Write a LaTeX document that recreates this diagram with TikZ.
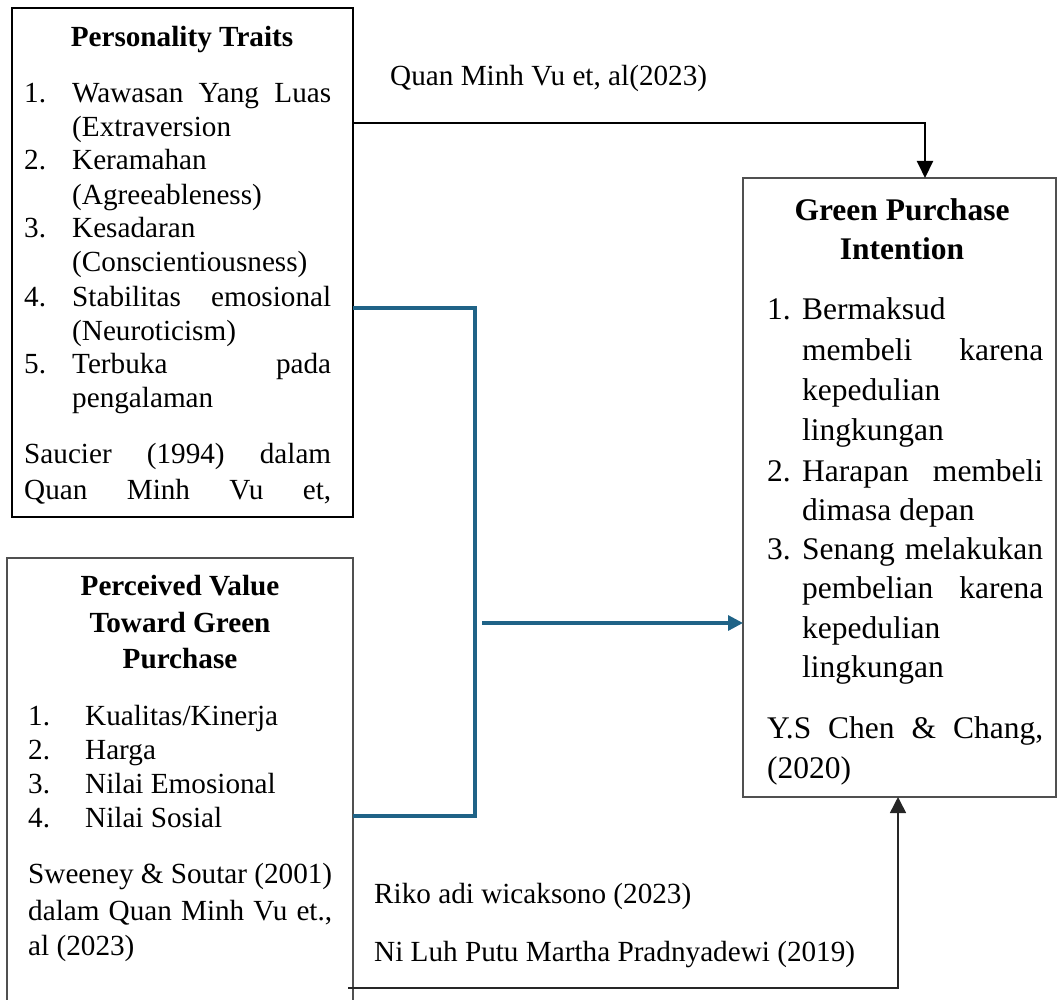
\documentclass[tikz,border=0pt]{standalone}
\usepackage{fontspec}
\setmainfont{Liberation Serif}
\usetikzlibrary{arrows.meta}
\definecolor{linkblue}{RGB}{31,99,135}
\definecolor{boxgray}{RGB}{80,80,80}
\begin{document}
\begin{tikzpicture}[x=1pt,y=-1pt,
  txt/.style={anchor=base west, inner sep=0pt, font=\fontsize{29.2}{34}\selectfont},
  gtxt/.style={anchor=base west, inner sep=0pt, font=\fontsize{31.5}{40}\selectfont},
  head/.style={anchor=base, inner sep=0pt, font=\fontsize{29.2}{34}\selectfont\bfseries},
  ghead/.style={anchor=base, inner sep=0pt, font=\fontsize{31.5}{40}\selectfont\bfseries},
  frame/.style={draw, anchor=north west, inner sep=0pt, outer sep=0pt},
  blk/.style={draw=black, line width=2pt, -{Triangle[length=17pt,width=16pt]}},
  blkthin/.style={draw=black!85, line width=1.5pt, -{Triangle[length=16pt,width=16pt]}},
  blu/.style={draw=linkblue, line width=3.2pt, line join=miter},
  bluarrow/.style={draw=linkblue, line width=3.2pt, -{Triangle[length=15pt,width=15pt]}}
]
\useasboundingbox (0,0) rectangle (1057,1000);

% ---------- Box 1: Personality Traits ----------
\node[frame, line width=2.8pt, minimum width=341pt, minimum height=509pt] (pt) at (12,8) {};
\node[head] (pth) at (182,47) {Personality Traits};
\node[txt] (ptn1) at (24,103) {1.};
\node[txt] (pt1a) at (72,103) {\makebox[259pt][s]{Wawasan Yang Luas}};
\node[txt] (pt1b) at (72,137) {(Extraversion};
\node[txt] (ptn2) at (24,170) {2.};
\node[txt] (pt2a) at (72,170) {Keramahan};
\node[txt] (pt2b) at (72,205) {(Agreeableness)};
\node[txt] (ptn3) at (24,238) {3.};
\node[txt] (pt3a) at (72,238) {Kesadaran};
\node[txt] (pt3b) at (72,272) {(Conscientiousness)};
\node[txt] (ptn4) at (24,306) {4.};
\node[txt] (pt4a) at (72,306) {\makebox[259pt][s]{Stabilitas emosional}};
\node[txt] (pt4b) at (72,340) {(Neuroticism)};
\node[txt] (ptn5) at (24,373) {5.};
\node[txt] (pt5a) at (72,373) {\makebox[259pt][s]{Terbuka pada}};
\node[txt] (pt5b) at (72,407) {pengalaman};
\node[txt] (ptc1) at (24,463) {\makebox[307pt][s]{Saucier (1994) dalam}};
\node[txt] (ptc2) at (24,499) {\makebox[307pt][s]{Quan Minh Vu et,}};

% ---------- Box 2: Perceived Value ----------
\begin{scope}
\clip (0,0) rectangle (1057,1000);
\node[frame, draw=boxgray, line width=1.4pt, minimum width=346pt, minimum height=460pt] (pv) at (7,558) {};
\end{scope}
\node[head] (pvh1) at (180,595) {Perceived Value};
\node[head] (pvh2) at (180,632) {Toward Green};
\node[head] (pvh3) at (180,668) {Purchase};
\node[txt] (pvn1) at (28,725) {1.};
\node[txt] (pv1) at (85,725) {Kualitas/Kinerja};
\node[txt] (pvn2) at (28,759) {2.};
\node[txt] (pv2) at (85,759) {Harga};
\node[txt] (pvn3) at (28,793) {3.};
\node[txt] (pv3) at (85,793) {Nilai Emosional};
\node[txt] (pvn4) at (28,827) {4.};
\node[txt] (pv4) at (85,827) {Nilai Sosial};
\node[txt] (pvc1) at (28,883) {\makebox[304pt][s]{Sweeney \& Soutar (2001)}};
\node[txt] (pvc2) at (28,920) {\makebox[304pt][s]{dalam Quan Minh Vu et.,}};
\node[txt] (pvc3) at (28,955) {al (2023)};

% ---------- Box 3: Green Purchase Intention ----------
\node[frame, draw=boxgray, line width=1.8pt, minimum width=313pt, minimum height=619pt] (gpi) at (743,178) {};
\node[ghead] (gh1) at (902,221) {Green Purchase};
\node[ghead] (gh2) at (902,260) {Intention};
\node[gtxt] (gn1) at (767,319) {1.};
\node[gtxt] (g1a) at (802,319) {Bermaksud};
\node[gtxt] (g1b) at (802,360) {\makebox[241pt][s]{membeli karena}};
\node[gtxt] (g1c) at (802,400) {kepedulian};
\node[gtxt] (g1d) at (802,440) {lingkungan};
\node[gtxt] (gn2) at (767,481) {2.};
\node[gtxt] (g2a) at (802,481) {\makebox[241pt][s]{Harapan membeli}};
\node[gtxt] (g2b) at (802,520) {dimasa depan};
\node[gtxt] (gn3) at (767,559) {3.};
\node[gtxt] (g3a) at (802,559) {\makebox[241pt][s]{Senang melakukan}};
\node[gtxt] (g3b) at (802,598) {\makebox[241pt][s]{pembelian karena}};
\node[gtxt] (g3c) at (802,638) {kepedulian};
\node[gtxt] (g3d) at (802,677) {lingkungan};
\node[gtxt] (gc1) at (767,738) {\makebox[276pt][s]{Y.S Chen \& Chang,}};
\node[gtxt] (gc2) at (767,778) {(2020)};

% ---------- free labels ----------
\node[txt] (lab1) at (390,86) {Quan Minh Vu et, al(2023)};
\node[txt] (lab2) at (374,903) {Riko adi wicaksono (2023)};
\node[txt] (lab3) at (374,961) {Ni Luh Putu Martha Pradnyadewi (2019)};

% ---------- connectors ----------
\coordinate (j1) at (475,308);
\coordinate (j2) at (475,816);
\coordinate (j3) at (482,623);
\coordinate (b1) at (348,988);

\draw[blk] (pt.east |- 0,123) -| ([xshift=25.5pt]gpi.north);
\draw[blu] (pt.east |- j1) -- (j1) -- (j2) -- (pv.east |- j2);
\draw[bluarrow] (j3) -- (gpi.west |- j3);
\draw[blkthin] (b1) -| ([xshift=-1.5pt]gpi.south);
\end{tikzpicture}
\end{document}
